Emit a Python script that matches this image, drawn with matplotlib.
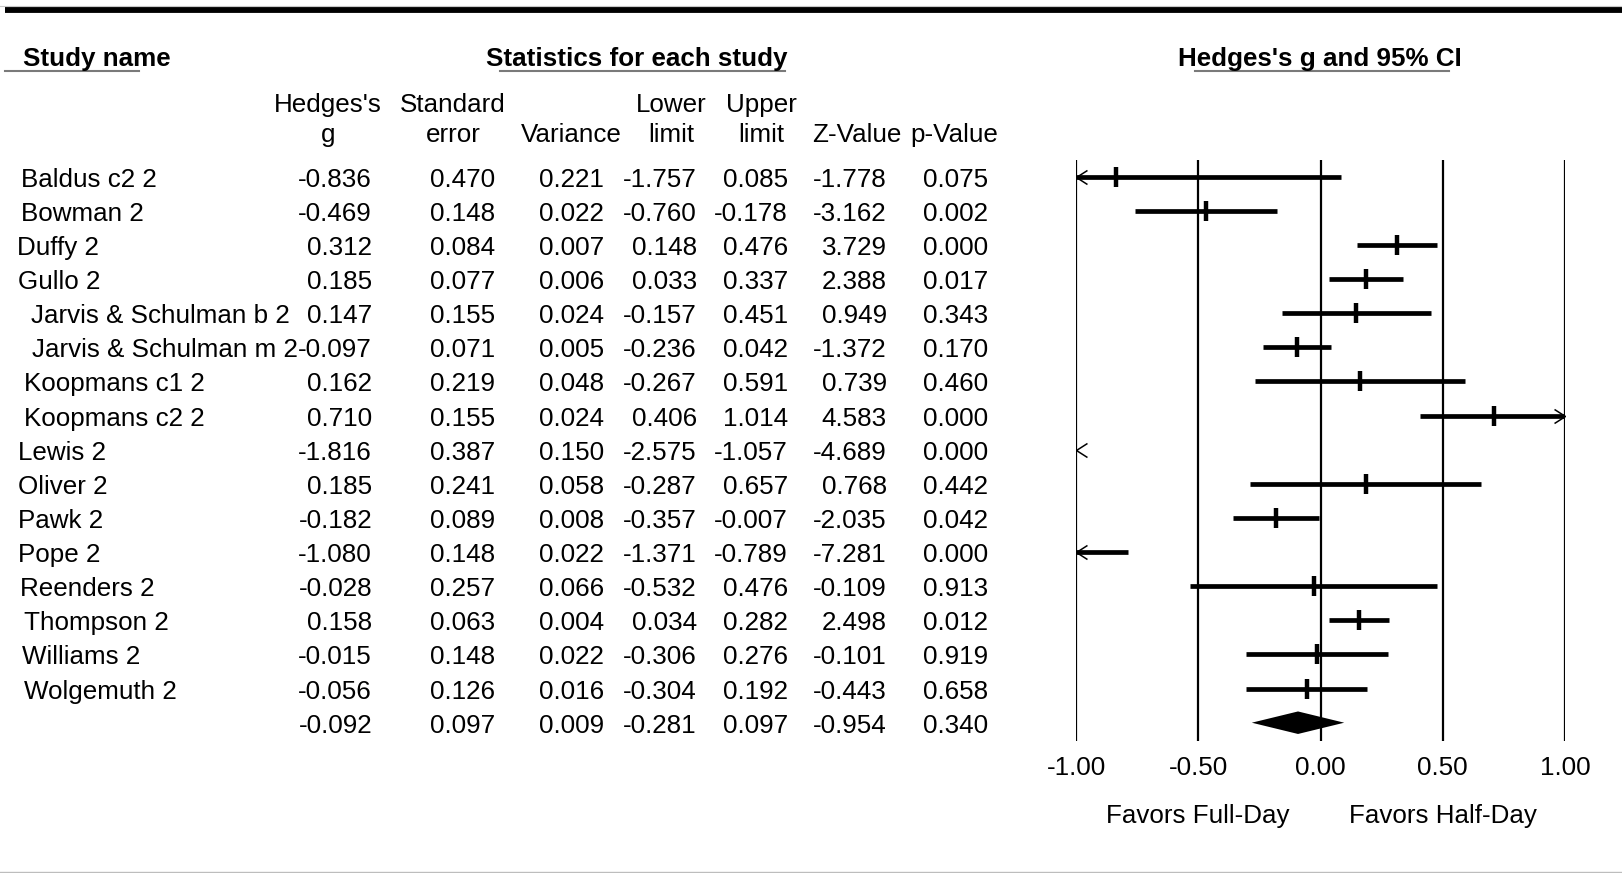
import matplotlib
matplotlib.use("Agg")
import matplotlib.pyplot as plt
from matplotlib.lines import Line2D
from matplotlib import transforms

plt.rcParams['font.family'] = ['Liberation Sans', 'DejaVu Sans']

# -----------------------------
# Data
# -----------------------------
studies = ["Baldus c2 2", "Bowman 2", "Duffy 2", "Gullo 2", "Jarvis & Schulman b 2",
           "Jarvis & Schulman m 2", "Koopmans c1 2", "Koopmans c2 2", "Lewis 2", "Oliver 2",
           "Pawk 2", "Pope 2", "Reenders 2", "Thompson 2", "Williams 2", "Wolgemuth 2"]
hedges_g = [-0.836, -0.469, 0.312, 0.185, 0.147, -0.097, 0.162, 0.710,
            -1.816, 0.185, -0.182, -1.080, -0.028, 0.158, -0.015, -0.056]
std_err = [0.470, 0.148, 0.084, 0.077, 0.155, 0.071, 0.219, 0.155,
           0.387, 0.241, 0.089, 0.148, 0.257, 0.063, 0.148, 0.126]
variance = [0.221, 0.022, 0.007, 0.006, 0.024, 0.005, 0.048, 0.024,
            0.150, 0.058, 0.008, 0.022, 0.066, 0.004, 0.022, 0.016]
lower = [-1.757, -0.760, 0.148, 0.033, -0.157, -0.236, -0.267, 0.406,
         -2.575, -0.287, -0.357, -1.371, -0.532, 0.034, -0.306, -0.304]
upper = [0.085, -0.178, 0.476, 0.337, 0.451, 0.042, 0.591, 1.014,
         -1.057, 0.657, -0.007, -0.789, 0.476, 0.282, 0.276, 0.192]
z_value = [-1.778, -3.162, 3.729, 2.388, 0.949, -1.372, 0.739, 4.583,
           -4.689, 0.768, -2.035, -7.281, -0.109, 2.498, -0.101, -0.443]
p_value = [0.075, 0.002, 0.000, 0.017, 0.343, 0.170, 0.460, 0.000,
           0.000, 0.442, 0.042, 0.000, 0.913, 0.012, 0.919, 0.658]

# summary (overall) row
summary = [-0.092, 0.097, 0.009, -0.281, 0.097, -0.954, 0.340]

col_headers = [("Hedges's", "g"), ("Standard", "error"), ("", "Variance"), ("Lower", "limit"),
               ("Upper", "limit"), ("", "Z-Value"), ("", "p-Value")]
x_ticks = [-1.0, -0.5, 0.0, 0.5, 1.0]
x_ticklabels = ["-1.00", "-0.50", "0.00", "0.50", "1.00"]

# -----------------------------
# Layout (pixels of the 1622x873 image)
# -----------------------------
W, H = 1622, 873
label_x = [21, 21, 17, 18, 31, 31.5, 24, 24, 17.5, 18, 17.5, 17.5, 20.5, 23.5, 21.5, 23.5]
col_right = [372, 495, 604, 697, 788, 887, 988]
col_center = [328, 453, 571, 671, 761, 857, 954]
FS = 18.7


def fx(px):
    return px / W


def fy(py):
    return 1 - py / H


fig = plt.figure(figsize=(16.22, 8.73), dpi=100)

# forest plot axes: -1 at x=1076, 1 at x=1565 ; lines from y=160 to y=741
ax = fig.add_axes([fx(1076), fy(741), (1565 - 1076) / W, (741 - 160) / H])
ax.set_xlim(-1, 1)
ax.set_ylim(16.536, -0.489)
ax.axis('off')

for t in x_ticks:
    ax.axvline(t, color='black', lw=1.6)

left_arrow = [(1, 0.64), (0, 0), (1, -0.64)]
right_arrow = [(-1, 0.64), (0, 0), (-1, -0.64)]

for i, (g, lo, hi) in enumerate(zip(hedges_g, lower, upper)):
    lo_c, hi_c = max(lo, -1.0), min(hi, 1.0)
    if hi_c > lo_c:
        ax.plot([lo_c, hi_c], [i, i], color='black', lw=3.4, solid_capstyle='butt')
    if lo < -1.0:
        ax.plot(-1.0, i, marker=left_arrow, ms=15.8, mew=1.1, mfc='none', mec='black')
    if hi > 1.0:
        ax.plot(1.0, i, marker=right_arrow, ms=15.8, mew=1.1, mfc='none', mec='black')
    if -1.0 <= g <= 1.0:
        ax.plot(g, i, marker='|', ms=14.5, mew=3.2, color='black')

# summary diamond
n = len(studies)
s_g, s_lo, s_hi = summary[0], summary[3], summary[4]
h = 0.33
ax.fill([s_lo, s_g, s_hi, s_g], [n, n - h, n, n + h], color='black', lw=0)

# x tick labels and direction labels
tick_trans = transforms.blended_transform_factory(ax.transData, fig.transFigure)
for t, lab in zip(x_ticks, x_ticklabels):
    ax.text(t, fy(775), lab, transform=tick_trans, ha='center', va='baseline', fontsize=FS)
ax.text(-0.5, fy(823), "Favors Full-Day", transform=tick_trans, ha='center', va='baseline', fontsize=FS)
ax.text(0.5, fy(823), "Favors Half-Day", transform=tick_trans, ha='center', va='baseline', fontsize=FS)

# -----------------------------
# Table text
# -----------------------------
row_trans = transforms.blended_transform_factory(fig.transFigure, ax.transData)
row_trans = transforms.offset_copy(row_trans, fig=fig, x=0, y=-10.0, units='dots')

for i, name in enumerate(studies):
    fig.text(fx(label_x[i]), i, name, transform=row_trans, ha='left', va='baseline', fontsize=FS)
    vals = [hedges_g[i], std_err[i], variance[i], lower[i], upper[i], z_value[i], p_value[i]]
    for xr, v in zip(col_right, vals):
        fig.text(fx(xr), i, f"{v:.3f}", transform=row_trans, ha='right', va='baseline', fontsize=FS)

for xr, v in zip(col_right, summary):
    fig.text(fx(xr), n, f"{v:.3f}", transform=row_trans, ha='right', va='baseline', fontsize=FS)

# column headers
for xc, (l1, l2) in zip(col_center, col_headers):
    if l1:
        fig.text(fx(xc), fy(112.3), l1, ha='center', va='baseline', fontsize=FS)
    fig.text(fx(xc), fy(142.3), l2, ha='center', va='baseline', fontsize=FS)

# section headers with offset underlines
fig.text(fx(23), fy(66), "Study name", ha='left', va='baseline', fontsize=FS, fontweight='bold')
fig.text(fx(486), fy(66), "Statistics for each study", ha='left', va='baseline', fontsize=FS, fontweight='bold')
fig.text(fx(1178), fy(66), "Hedges's g and 95% CI", ha='left', va='baseline', fontsize=FS, fontweight='bold')

for x0, x1 in [(5, 139), (500, 785), (1195, 1449)]:
    fig.add_artist(Line2D([fx(x0), fx(x1)], [fy(70.5), fy(70.5)], color='#7a7a7a', lw=1.5))

# frame lines
fig.add_artist(Line2D([0, 1], [fy(6), fy(6)], color='#c8c8c8', lw=0.8))
fig.add_artist(Line2D([fx(5), 1], [fy(9.8), fy(9.8)], color='black', lw=4.2, solid_capstyle='butt'))
fig.add_artist(Line2D([0, 1], [fy(871.5), fy(871.5)], color='#bdbdbd', lw=1.0))

fig.savefig("out.png", dpi=100)
